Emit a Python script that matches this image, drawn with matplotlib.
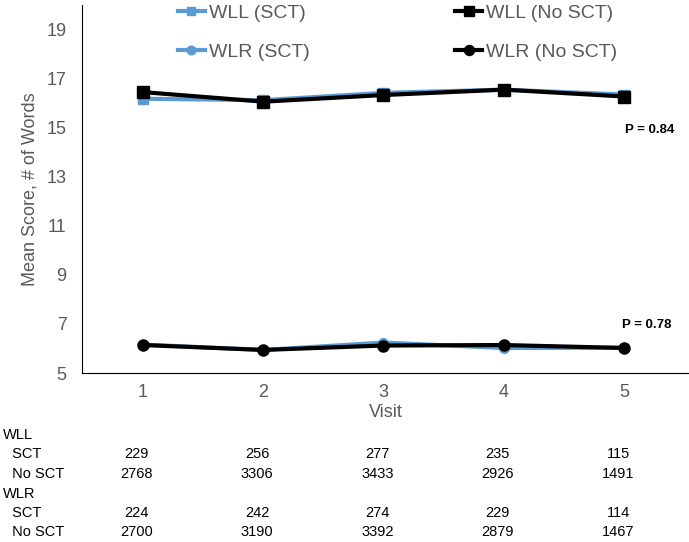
import matplotlib.pyplot as plt
from matplotlib.lines import Line2D
from matplotlib.transforms import blended_transform_factory

plt.rcParams['font.family'] = ['Liberation Sans', 'DejaVu Sans']

visits = [1, 2, 3, 4, 5]
wll_sct = [16.18, 16.12, 16.42, 16.55, 16.35]
wll_nosct = [16.45, 16.06, 16.33, 16.55, 16.27]
wlr_sct = [6.16, 5.94, 6.24, 6.02, 6.03]
wlr_nosct = [6.14, 5.94, 6.12, 6.14, 6.02]

n_wll_sct = [229, 256, 277, 235, 115]
n_wll_nosct = [2768, 3306, 3433, 2926, 1491]
n_wlr_sct = [224, 242, 274, 229, 114]
n_wlr_nosct = [2700, 3190, 3392, 2879, 1467]

blue = '#5B9BD5'
grey = '#595959'

fig = plt.figure(figsize=(6.89, 5.42), dpi=100)
ax = fig.add_axes([82 / 689, 1 - 373 / 542, 1 - 82 / 689, 368 / 542])

ax.plot(visits, wll_sct, color=blue, lw=3, marker='s', ms=7)
ax.plot(visits, wlr_sct, color=blue, lw=3, marker='o', ms=7)
ax.plot(visits, wll_nosct, color='black', lw=3, marker='s', ms=8)
ax.plot(visits, wlr_nosct, color='black', lw=3, marker='o', ms=8)

ax.set_xlim(0.494, 5.54)
ax.set_ylim(5, 20)
ax.set_yticks([5, 7, 9, 11, 13, 15, 17, 19])
ax.set_xticks(visits)
ax.tick_params(axis='y', length=0, labelsize=13, colors=grey, pad=11)
ax.tick_params(axis='x', length=0, labelsize=13, colors=grey, pad=8)
ax.spines['top'].set_visible(False)
ax.spines['right'].set_visible(False)
ax.spines['left'].set_color('black')
ax.spines['bottom'].set_color('black')
ax.set_xlabel('Visit', fontsize=13, color=grey, labelpad=2)
ax.set_ylabel('Mean Score, # of Words', fontsize=13, color=grey, labelpad=6)

handles = [
    Line2D([], [], color=blue, lw=3, marker='s', ms=7),
    Line2D([], [], color=blue, lw=3, marker='o', ms=7),
    Line2D([], [], color='black', lw=3, marker='s', ms=8),
    Line2D([], [], color='black', lw=3, marker='o', ms=8),
]
labels = ['WLL (SCT)', 'WLR (SCT)', 'WLL (No SCT)', 'WLR (No SCT)']
leg = ax.legend(handles, labels, ncol=2, loc='upper left',
                bbox_to_anchor=(160 / 689, 1.0 + 13 / 542), bbox_transform=fig.transFigure,
                frameon=False, fontsize=14, handlelength=1.4, handletextpad=0.2,
                columnspacing=7.5, labelspacing=1.1, markerscale=0.9)
for t in leg.get_texts():
    t.set_color(grey)

ax.text(5.01, 14.92, 'P = 0.84', fontsize=9.5, fontweight='bold', ha='left', va='center')
ax.text(4.98, 6.96, 'P = 0.78', fontsize=9.5, fontweight='bold', ha='left', va='center')

# sample size table under the axis
tr = blended_transform_factory(ax.transData, fig.transFigure)
rows = [('WLL', None), (' SCT', n_wll_sct), (' No SCT', n_wll_nosct),
        ('WLR', None), (' SCT', n_wlr_sct), (' No SCT', n_wlr_nosct)]
row_y = [435, 454, 474, 494, 513, 532]
for (name, vals), py in zip(rows, row_y):
    yf = 1 - py / 542
    fig.text(3 / 689 if vals is None else 8 / 689, yf, name, fontsize=10.5, va='center')
    if vals is not None:
        for v, n in zip(visits, vals):
            fig.text(v - 0.05, yf, str(n), fontsize=10.5, va='center', ha='center', transform=tr)

fig.savefig('out.png', dpi=100)
